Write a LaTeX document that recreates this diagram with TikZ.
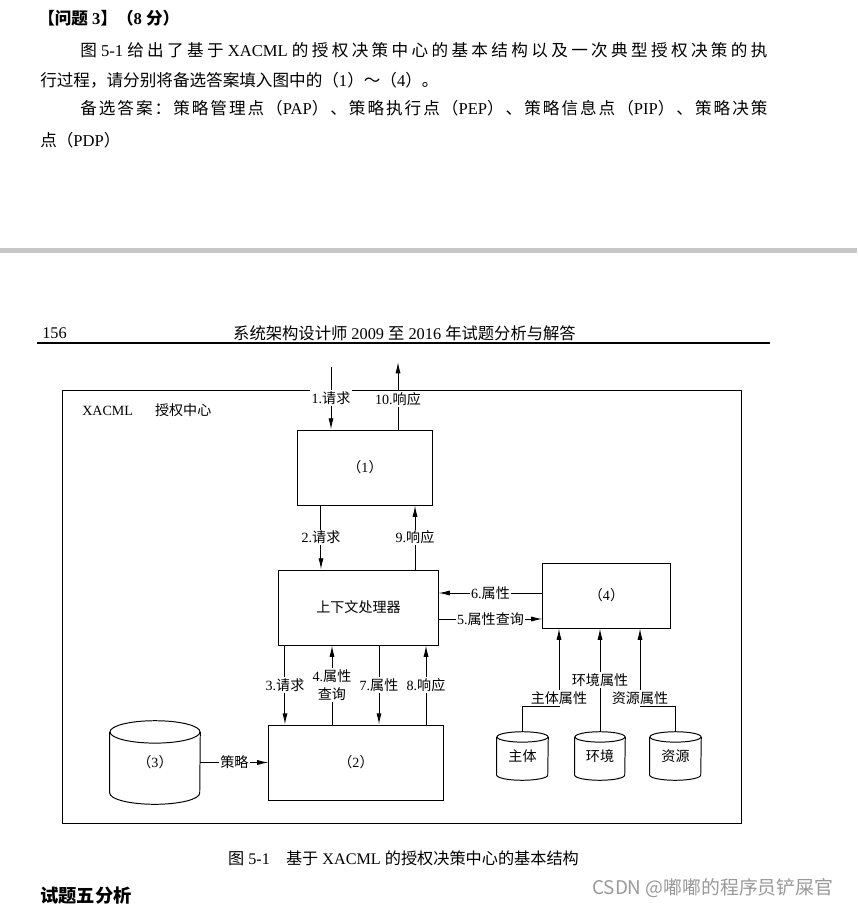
\documentclass[tikz,border=0pt]{standalone}
\usepackage{fontspec}
\setmainfont{Liberation Serif}
\newfontfamily\cjk{Noto Sans CJK SC}
\usetikzlibrary{arrows.meta}

% stretchable glue between CJK characters (only where \cjkglue is set)
\XeTeXinterchartokenstate=1
\newXeTeXintercharclass\cjkcls
\newcount\cjkcode
\newcommand\setcjkrange[2]{%
  \cjkcode=#1\relax
  \loop
    \XeTeXcharclass\cjkcode=\cjkcls
  \ifnum\cjkcode<#2\relax
    \advance\cjkcode by 1
  \repeat}
\setcjkrange{"3000}{"303F}
\setcjkrange{"4E00}{"9FFF}
\setcjkrange{"FF00}{"FFEF}
\newcommand{\cjkglue}{}
\XeTeXinterchartoks\cjkcls\cjkcls={\cjkglue}

\newcommand{\zh}[1]{{\cjk #1}}
% justified line of given width
\newcommand{\jline}[2]{\makebox[#1][s]{\def\cjkglue{\hskip 0pt plus 1fil\relax}#2}}

% database drum: name, centre, width, height, ellipse radius, text
\newcommand{\drum}[6]{%
  \node[minimum width=#3, minimum height=#4, inner sep=0pt, font=\fontsize{10}{12}\selectfont] (#1) at (#2) {#6};
  \draw[line width=0.7pt] ([yshift=-#5]#1.north west) -- ([yshift=#5]#1.south west)
    arc[start angle=180, end angle=360, x radius=#3/2, y radius=#5]
    -- ([yshift=-#5]#1.north east);
  \draw[line width=0.7pt] ([yshift=-#5]#1.north) ellipse [x radius=#3/2, y radius=#5];}

\begin{document}
\begin{tikzpicture}[x=0.025cm, y=-0.025cm,
  box/.style={draw, line width=0.7pt, inner sep=0pt, font=\fontsize{10}{12}\selectfont},
  lbl/.style={fill=white, inner sep=1pt, font=\fontsize{10}{12.8}\selectfont},
  arr/.style={line width=0.7pt, -{Latex[length=8pt,width=3.6pt]}},
  rarr/.style={line width=0.7pt, {Latex[length=8pt,width=3.6pt]}-},
  body/.style={anchor=west, inner sep=0pt, font=\fontsize{11.8}{14}\selectfont}]

  \useasboundingbox (0,0) rectangle (857,908);
  \clip (0,0) rectangle (857,908);

  % Question text
  \node[body, font=\fontsize{11.8}{14}\selectfont\bfseries] (q3) at (38,18) {\zh{【问题} 3\zh{】（}8 \zh{分）}};
  \node[body] (l2) at (80,50) {\jline{17.175cm}{\zh{图} 5-1 \zh{给出了基于} XACML \zh{的授权决策中心的基本结构以及一次典型授权决策的执}}};
  \node[body] (l3) at (40,80) {\zh{行过程，请分别将备选答案填入图中的（}1\zh{）～（}4\zh{）。}};
  \node[body] (l4) at (80,108) {\jline{17.175cm}{\zh{备选答案：策略管理点（}PAP\zh{）、策略执行点（}PEP\zh{）、策略信息点（}PIP\zh{）、策略决策}}};
  \node[body] (l5) at (40,140) {\zh{点（}PDP\zh{）}};

  % Page break band
  \fill[black!22] (0,248) rectangle (857,253);

  % Page header
  \node[anchor=west, inner sep=0pt, font=\fontsize{11.6}{14}\selectfont] (pg) at (42,333) {156};
  \node[inner sep=0pt, font=\fontsize{11.6}{14}\selectfont] (hd) at (404.5,333) {\zh{系统架构设计师} 2009 \zh{至} 2016 \zh{年试题分析与解答}};
  \draw[line width=0.9pt] (37,343) -- (770,343);

  % Authorisation centre frame
  \draw[line width=0.7pt] (62,390) rectangle (741,823);
  \node[anchor=west, inner sep=0pt, font=\fontsize{10}{12}\selectfont] (xacml) at (82,410) {XACML\hspace{0.55cm}\zh{授权中心}};

  % Boxes
  \node[box, minimum width=3.35cm, minimum height=1.875cm] (n1) at (365,467.5) {\zh{（}1\zh{）}};
  \node[box, minimum width=3.975cm, minimum height=1.875cm] (ctx) at (358.5,607.5) {\zh{上下文处理器}};
  \node[box, minimum width=3.175cm, minimum height=1.625cm] (n4) at (606.5,595.5) {\zh{（}4\zh{）}};
  \node[box, minimum width=4.35cm, minimum height=1.875cm] (n2) at (356,762.5) {\zh{（}2\zh{）}};

  % Stores
  \drum{n3}{155,762.5}{2.25cm}{2.075cm}{0.28cm}{\zh{（}3\zh{）}}
  \drum{subj}{522.5,756}{1.275cm}{1.2cm}{0.13cm}{\zh{主体}}
  \drum{env}{600,756}{1.25cm}{1.2cm}{0.13cm}{\zh{环境}}
  \drum{res}{675.5,756}{1.275cm}{1.2cm}{0.13cm}{\zh{资源}}

  % Request / response flow
  \coordinate (in1) at (331,367);
  \coordinate (out10) at (398,362);
  \draw[arr] (in1) -- (in1 |- n1.north) node[midway, lbl] {1.\zh{请求}};
  \draw[arr] (out10 |- n1.north) -- (out10) node[pos=0.45, lbl] {10.\zh{响应}};
  \draw[arr] ([xshift=-1.1cm]n1.south) coordinate (a2) -- (a2 |- ctx.north) node[midway, lbl] {2.\zh{请求}};
  \draw[rarr] ([xshift=1.25cm]n1.south) coordinate (a9) -- (a9 |- ctx.north) node[midway, lbl] {9.\zh{响应}};

  % Attribute query with (4)
  \draw[rarr] ([yshift=0.3625cm]ctx.east) coordinate (a6) -- (a6 -| n4.west) node[midway, lbl] {6.\zh{属性}};
  \draw[arr] ([yshift=-0.2875cm]ctx.east) coordinate (a5) -- (a5 -| n4.west) node[midway, lbl] {5.\zh{属性查询}};

  % Context handler and (2)
  \draw[arr] ([xshift=-1.8375cm]ctx.south) coordinate (a3) -- (a3 |- n2.north) node[midway, lbl] {3.\zh{请求}};
  \draw[rarr] ([xshift=-0.6625cm]ctx.south) coordinate (a4) -- (a4 |- n2.north) node[midway, lbl, align=center] {4.\zh{属性}\\\zh{查询}};
  \draw[arr] ([xshift=0.5125cm]ctx.south) coordinate (a7) -- (a7 |- n2.north) node[midway, lbl] {7.\zh{属性}};
  \draw[rarr] ([xshift=1.6875cm]ctx.south) coordinate (a8) -- (a8 |- n2.north) node[midway, lbl] {8.\zh{响应}};

  % Policy
  \draw[arr] (n3.east) -- (n3.east -| n2.west) node[midway, lbl] {\zh{策略}};

  % Attribute sources
  \draw[arr] (subj.north) -- ++(0,-25) -| ([xshift=-1.1875cm]n4.south) node[pos=0.5, lbl, anchor=south, yshift=0.4pt] {\zh{主体属性}};
  \draw[arr] (env.north) -- (env.north |- n4.south) node[midway, lbl] {\zh{环境属性}};
  \draw[arr] (res.north) -- ++(0,-25) -| ([xshift=0.8375cm]n4.south) node[pos=0.5, lbl, anchor=south, yshift=0.4pt] {\zh{资源属性}};

  % Caption and page bottom
  \node[inner sep=0pt, font=\fontsize{11.5}{14}\selectfont] (cap) at (403.5,858) {\zh{图} 5-1\quad\zh{基于} XACML \zh{的授权决策中心的基本结构}};
  \node[anchor=west, inner sep=0pt, font=\fontsize{13}{16}\selectfont\bfseries] (sec) at (40,896) {\zh{试题五分析}};
  \node[anchor=west, inner sep=0pt, text=black!40, font=\cjk\fontsize{13.4}{16}\selectfont] (wm) at (592,888) {CSDN @嘟嘟的程序员铲屎官};

\end{tikzpicture}
\end{document}
